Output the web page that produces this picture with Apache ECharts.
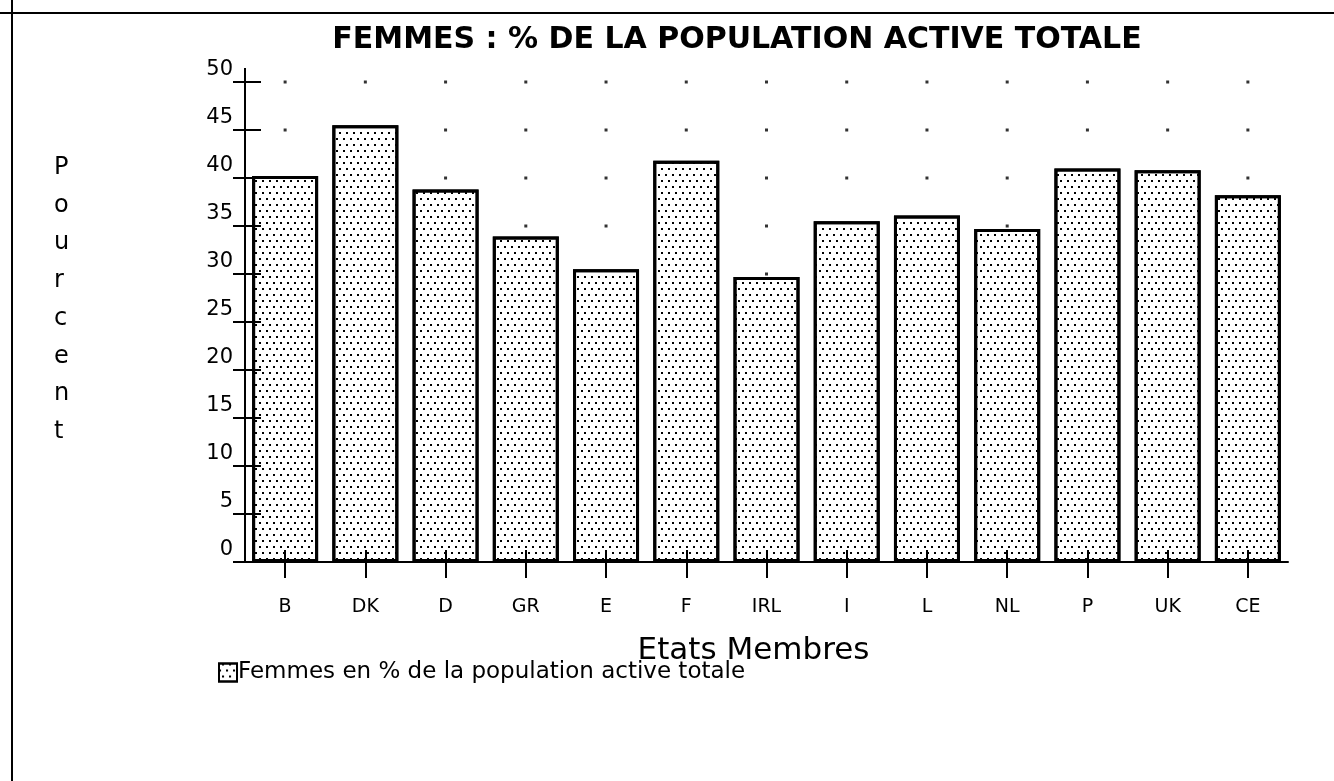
<!DOCTYPE html>
<html>
<head>
<meta charset="utf-8">
<title>Femmes : % de la population active totale</title>
<script src="https://cdn.jsdelivr.net/npm/echarts@6/dist/echarts.min.js"></script>
<style>
  html, body { margin: 0; padding: 0; background: #fff; }
  #chart { width: 1334px; height: 781px; }
</style>
</head>
<body>
<div id="chart"></div>
<script>
// Etats membres (axe des x)
var categories = ['B', 'DK', 'D', 'GR', 'E', 'F', 'IRL', 'I', 'L', 'NL', 'P', 'UK', 'CE']
// Femmes en % de la population active totale
var femmesPct = [40.2, 45.5, 38.8, 33.9, 30.5, 41.8, 29.7, 35.5, 36.1, 34.7, 41.0, 40.8, 38.2]
// graduations de l'axe des y
var yTicks = [5, 10, 15, 20, 25, 30, 35, 40, 45, 50]

var FONT = '"DejaVu Sans", sans-serif'

// petits points de la grille : un par etat et par graduation
var gridDots = []
categories.forEach(function (c) {
  yTicks.forEach(function (v) {
    gridDots.push([c, v])
  })
})

// trame pointillee en quinconce (echarts arrondit les tirets a l'entier)
var dotted = {
  symbol: 'rect',
  symbolSize: 1,
  color: '#000',
  backgroundColor: 'rgba(0,0,0,0)',
  dashArrayX: [[2, 5], [0, 3, 2, 2]],
  dashArrayY: [2, 4],
  rotation: 0
}

var chart = echarts.init(document.getElementById('chart'))

chart.setOption({
  backgroundColor: '#fff',
  animation: false,
  title: [{
    text: 'FEMMES : % DE LA POPULATION ACTIVE TOTALE',
    left: 732,
    textAlign: 'center',
    top: 20,
    textStyle: { fontFamily: FONT, fontSize: 30, fontWeight: 'bold', color: '#000' }
  }, {
    text: 'P\no\nu\nr\nc\ne\nn\nt',
    left: 49,
    top: 144,
    textStyle: { fontFamily: FONT, fontSize: 24, fontWeight: 'normal', color: '#000', lineHeight: 37.7 }
  }],
  graphic: [
    { type: 'line', shape: { x1: 0, y1: 13, x2: 1334, y2: 13 }, style: { stroke: '#000', lineWidth: 2 } },
    { type: 'line', shape: { x1: 12, y1: 0, x2: 12, y2: 781 }, style: { stroke: '#000', lineWidth: 2 } },
    // prolongement de l'axe des y au-dessus de 50
    { type: 'line', shape: { x1: 245, y1: 68, x2: 245, y2: 82 }, style: { stroke: '#000', lineWidth: 2 } }
  ],
  legend: {
    left: 218,
    top: 661,
    padding: 0,
    icon: 'rect',
    itemWidth: 18,
    itemHeight: 18,
    data: ['Femmes en % de la population active totale'],
    textStyle: { fontFamily: FONT, fontSize: 23, color: '#000', padding: [0, 0, 0, -4] }
  },
  grid: {
    left: 245,
    right: 46,
    top: 82,
    bottom: 219
  },
  xAxis: [{
    type: 'category',
    data: categories,
    name: 'Etats Membres',
    nameLocation: 'middle',
    nameGap: 73,
    nameTextStyle: { fontFamily: FONT, fontSize: 31, color: '#000', padding: [0, 26, 0, 0] },
    axisLine: { show: true, lineStyle: { color: '#000', width: 2 } },
    axisTick: { show: true, interval: 0, alignWithLabel: true, length: 16, lineStyle: { color: '#000', width: 2 } },
    axisLabel: { fontFamily: FONT, fontSize: 19, color: '#000', margin: 36 }
  }, {
    type: 'category',
    data: categories,
    position: 'bottom',
    z: 5,
    axisLine: { show: false },
    axisTick: { show: true, interval: 0, inside: true, alignWithLabel: true, length: 12, lineStyle: { color: '#000', width: 2 } },
    axisLabel: { show: false }
  }],
  yAxis: [{
    type: 'value',
    min: 0,
    max: 50,
    interval: 5,
    splitLine: { show: false },
    axisLine: { show: true, lineStyle: { color: '#000', width: 2 } },
    axisTick: { show: true, length: 12, lineStyle: { color: '#000', width: 2 } },
    axisLabel: { fontFamily: FONT, fontSize: 21, color: '#000', margin: 12, verticalAlign: 'bottom', padding: [0, 0, 2, 0] }
  }, {
    type: 'value',
    min: 0,
    max: 50,
    interval: 5,
    position: 'left',
    z: 5,
    splitLine: { show: false },
    axisLine: { show: false },
    axisTick: { show: true, inside: true, length: 16, lineStyle: { color: '#000', width: 2 } },
    axisLabel: { show: false }
  }],
  series: [{
    type: 'scatter',
    data: gridDots,
    symbol: 'rect',
    symbolSize: 3,
    itemStyle: { color: '#000' },
    z: 1,
    silent: true
  }, {
    name: 'Femmes en % de la population active totale',
    type: 'bar',
    data: femmesPct,
    barWidth: 66,
    z: 3,
    itemStyle: {
      color: '#fff',
      borderColor: '#000',
      borderWidth: 3,
      decal: dotted
    }
  }]
})
</script>
</body>
</html>
